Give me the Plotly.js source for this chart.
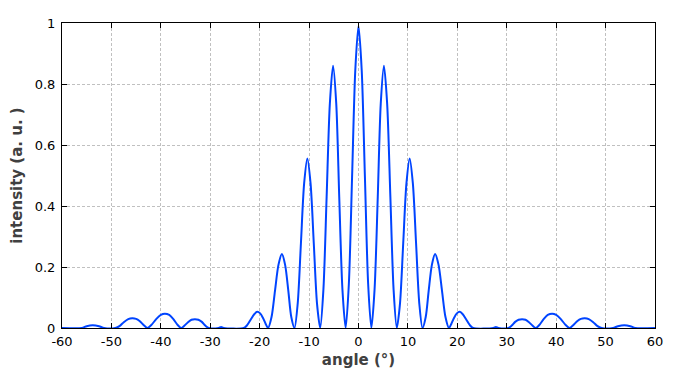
<!DOCTYPE html>
<html>
<head>
<meta charset="utf-8">
<script src="https://cdn.plot.ly/plotly-3.0.1.min.js"></script>
<style>html,body{margin:0;padding:0;background:#fff;} #chart{width:700px;height:375px;}</style>
</head>
<body>
<div id="chart"></div>
<script>
// angle (degrees)
var angle = [
  -60, -56.0, -55.0, -53.8, -52.5, -51.5, -49.2, -48.3, -47.5, -46.6, -45.8, -45.0, -44.3, -43.5,
  -42.7, -41.8, -40.9, -40.0, -39.2, -38.3, -37.5, -36.7, -35.9, -35.2, -34.5, -33.8, -33.1, -32.4,
  -31.7, -31.0, -30.3, -28.3, -27.8, -27.3, -23.2, -22.5, -21.8, -21.1, -20.5, -19.9, -19.3, -18.8,
  -18.3, -17.6, -16.9, -16.2, -15.5, -14.85, -14.2, -13.6, -12.95, -12.3, -11.65, -11.0, -10.35,
  -9.7, -9.05, -8.4, -7.75, -7.1, -6.45, -5.8, -5.15, -4.5, -3.9, -3.25, -2.6, -1.95, -1.3, -0.65,
  0,
  0.65, 1.3, 1.95, 2.6, 3.25, 3.9, 4.5, 5.15, 5.8, 6.45, 7.1, 7.75, 8.4, 9.05, 9.7, 10.35, 11.0,
  11.65, 12.3, 12.95, 13.6, 14.2, 14.85, 15.5, 16.2, 16.9, 17.6, 18.3, 18.8, 19.3, 19.9, 20.5, 21.1,
  21.8, 22.5, 23.2, 27.3, 27.8, 28.3, 30.3, 31.0, 31.7, 32.4, 33.1, 33.8, 34.5, 35.2, 35.9, 36.7,
  37.5, 38.3, 39.2, 40.0, 40.9, 41.8, 42.7, 43.5, 44.3, 45.0, 45.8, 46.6, 47.5, 48.3, 49.2, 51.5,
  52.5, 53.8, 55.0, 56.0, 60
];
// intensity (a. u.)
var intensity = [
  0, 0, 0.006, 0.009, 0.006, 0, 0, 0.007, 0.019, 0.029, 0.032, 0.030, 0.023, 0.010,
  0, 0.012, 0.030, 0.043, 0.047, 0.043, 0.030, 0.012, 0, 0.008, 0.019, 0.027, 0.029, 0.027,
  0.020, 0.008, 0, 0, 0.003, 0, 0, 0.010, 0.028, 0.045, 0.053, 0.048, 0.032, 0.014,
  0, 0.036, 0.122, 0.207, 0.243, 0.207, 0.122, 0.036, 0, 0.081, 0.278, 0.474, 0.556,
  0.474, 0.278, 0.081, 0, 0.126, 0.430, 0.735, 0.860, 0.735, 0.430, 0.126, 0, 0.145, 0.495, 0.845,
  0.99,
  0.845, 0.495, 0.145, 0, 0.126, 0.430, 0.735, 0.860, 0.735, 0.430, 0.126, 0, 0.081, 0.278, 0.474, 0.556, 0.474,
  0.278, 0.081, 0, 0.036, 0.122, 0.207, 0.243, 0.207, 0.122, 0.036, 0, 0.014, 0.032, 0.048, 0.053, 0.045,
  0.028, 0.010, 0, 0, 0.003, 0, 0, 0.008, 0.020, 0.027, 0.029, 0.027, 0.019, 0.008, 0, 0.012,
  0.030, 0.043, 0.047, 0.043, 0.030, 0.012, 0, 0.010, 0.023, 0.030, 0.032, 0.029, 0.019, 0.007, 0, 0,
  0.006, 0.009, 0.006, 0, 0
];
var xTicks = [-60, -50, -40, -30, -20, -10, 0, 10, 20, 30, 40, 50, 60];
var yTicks = [0, 0.2, 0.4, 0.6, 0.8, 1];
var yTickText = ['0', '0.2', '0.4', '0.6', '0.8', '1'];

var trace = {
  x: angle, y: intensity, type: 'scatter', mode: 'lines',
  line: {color: '#0044ff', width: 2, shape: 'spline', smoothing: 0.8},
  hoverinfo: 'skip'
};

var axisCommon = {
  showline: true, linecolor: '#000', linewidth: 1, mirror: 'ticks',
  ticks: 'inside', ticklen: 5, tickcolor: '#000', tickwidth: 1,
  showgrid: true, gridcolor: '#c0c0c0', griddash: '3px,2px', gridwidth: 1,
  zeroline: false,
  tickfont: {family: 'DejaVu Sans, Verdana, sans-serif', size: 13, color: '#000'}
};

var layout = {
  width: 700, height: 375,
  margin: {l: 62, r: 45, t: 23, b: 47},
  paper_bgcolor: '#fff', plot_bgcolor: '#fff',
  showlegend: false,
  xaxis: Object.assign({}, axisCommon, {
    range: [-60, 60], tickvals: xTicks, ticktext: xTicks.map(String),
    ticklabelstandoff: 1,
    title: {text: '<b>angle (°)</b>', standoff: 6,
      font: {family: 'DejaVu Sans, Verdana, sans-serif', size: 15, color: '#404040'}}
  }),
  yaxis: Object.assign({}, axisCommon, {
    range: [0, 1], tickvals: yTicks, ticktext: yTickText,
    ticklabelstandoff: 3,
    title: {text: '<b>intensity (a. u. )</b>', standoff: 8,
      font: {family: 'DejaVu Sans, Verdana, sans-serif', size: 15, color: '#404040'}}
  })
};

Plotly.newPlot('chart', [trace], layout, {displayModeBar: false, staticPlot: true});
</script>
</body>
</html>
